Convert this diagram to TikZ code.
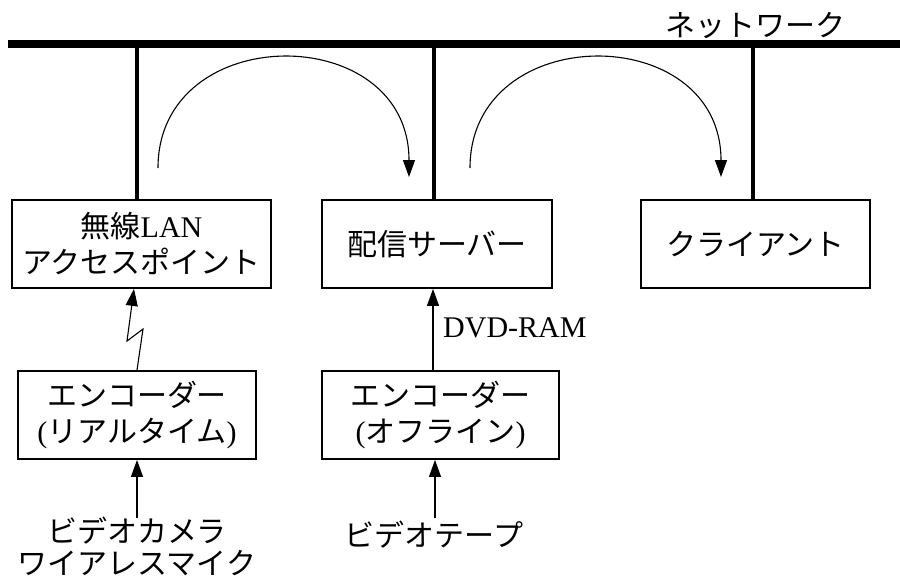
\documentclass[tikz,border=0pt]{standalone}
\usepackage{fontspec}
\setmainfont{Liberation Serif}
\newfontfamily\cjk{Noto Sans CJK JP}
\usetikzlibrary{arrows.meta}
\begin{document}
\begin{tikzpicture}[x=1pt,y=-1pt,
  box/.style={draw,line width=1.8pt,minimum height=88,inner sep=0pt,align=center,
    font=\fontsize{30}{36}\selectfont},
  lbl/.style={inner sep=0pt,align=center,font=\fontsize{30}{32}\selectfont},
  arr/.style={line width=1.1pt,-{Triangle[length=17pt,width=12pt]}},
  drop/.style={line width=3.5pt},
  bus/.style={line width=8pt}]
\useasboundingbox (0,0) rectangle (900,578);
% network bus
\coordinate (busL) at (8,44.5);
\coordinate (busR) at (900,44.5);
\draw[bus] (busL) -- (busR);
\node[lbl] (net) at (755,26) {\cjk ネットワーク};
% boxes
\node[box,minimum width=259] (b1) at (141.5,244) {{\cjk 無線}LAN\\{\cjk アクセスポイント}};
\node[box,minimum width=230] (b2) at (437,244) {\cjk 配信サーバー};
\node[box,minimum width=229] (b3) at (755.5,244) {\cjk クライアント};
\node[box,minimum width=238] (b4) at (137,415) {{\cjk エンコーダー}\\({\cjk リアルタイム})};
\node[box,minimum width=237] (b5) at (440.5,415) {{\cjk エンコーダー}\\({\cjk オフライン})};
% sources
\node[lbl] (s1) at (137,546) {{\cjk ビデオカメラ}\\{\cjk ワイアレスマイク}};
\node[lbl] (s2) at (434,535) {\cjk ビデオテープ};
% drops
\coordinate (d1) at (137,44.5);
\coordinate (d2) at (434,44.5);
\coordinate (d3) at (753,44.5);
\draw[drop] (d1) -- (d1 |- b1.north);
\draw[drop] (d2) -- (d2 |- b2.north);
\draw[drop] (d3) -- (d3 |- b3.north);
% DVD-RAM arrow
\coordinate (x2) at (433,0);
\draw[arr] (x2 |- b5.north) -- (x2 |- b2.south);
\node[lbl,anchor=west] (dvd) at (443,328) {DVD-RAM};
% wireless lightning arrow
\coordinate (z1) at (143,329);
\coordinate (z2) at (127,341);
\coordinate (z3) at (134,0);
\draw[arr] (b4.north) -- (z1) -- (z2) -- (z3 |- b1.south);
% source arrows
\coordinate (x4) at (137,518);
\coordinate (x5) at (435,518);
\draw[arr] (x4) -- (x4 |- b4.south);
\draw[arr] (x5) -- (x5 |- b5.south);
% curved arrows
\coordinate (c1s) at (158,168);
\coordinate (c1e) at (409,177);
\coordinate (c2s) at (470,168);
\coordinate (c2e) at (721,177);
\draw[arr] (c1s) .. controls (158,20) and (409,20) .. (c1e);
\draw[arr] (c2s) .. controls (470,20) and (721,20) .. (c2e);
\end{tikzpicture}
\end{document}
